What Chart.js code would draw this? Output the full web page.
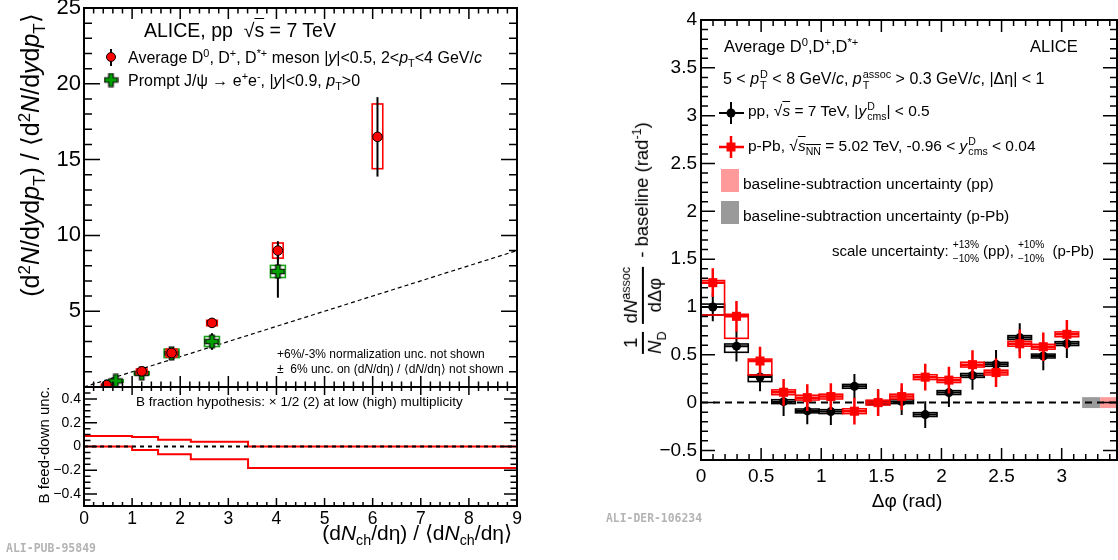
<!DOCTYPE html>
<html>
<head>
<meta charset="utf-8">
<script src="https://cdn.jsdelivr.net/npm/chart.js@4.4.1/dist/chart.umd.min.js"></script>
<style>
body { margin: 0; background: #fff; }
#fig { position: relative; width: 1118px; height: 560px; overflow: hidden; background: #fff;
       font-family: "Liberation Sans", Arial, Helvetica, sans-serif; color: #000; }
#fig canvas { position: absolute; }
.t { position: absolute; white-space: nowrap; line-height: 2.2; }
.t sup, .t sub, .rot sup, .rot sub { font-size: 0.68em; line-height: 0; }
.ov { text-decoration: overline; }
.ss { display: inline-flex; flex-direction: column; align-items: flex-start; font-size: 0.68em;
      line-height: 1; vertical-align: 0.56em; margin-left: 1px; }
.ss2 { display: inline-flex; flex-direction: column; align-items: center; font-size: 0.68em;
       line-height: 1.45; vertical-align: 0.85em; margin: 0 4px; }
.rot { position: absolute; white-space: nowrap; line-height: 1.2; transform: translate(-50%, -50%) rotate(-90deg); }
.frac { display: inline-flex; flex-direction: column; align-items: center; vertical-align: middle; margin: 0 4px; line-height: 1.1; }
.frac .bar { align-self: stretch; height: 1.5px; background: #000; margin: 1px 0; }
.tag { font-family: "DejaVu Sans Mono", monospace; font-weight: bold; color: #b4b4b4; }
</style>
</head>
<body>
<div id="fig">
  <canvas id="cTop" width="530" height="395" style="left:0;top:0"></canvas>
  <canvas id="cBot" width="530" height="180" style="left:0;top:380px"></canvas>
  <canvas id="cCorr" width="528" height="560" style="left:590px;top:0"></canvas>
</div>
<script>
// ---- left: self-normalised yields vs multiplicity ----
const multD = [0.47, 1.2, 1.82, 2.66, 4.03, 6.1];
const yieldD = [0.12, 1.03, 2.24, 4.23, 9.0, 16.5];
const statD = [0.1, 0.15, 0.3, 0.15, 0.62, 2.62];
const sysLoD = [0.06, 0.16, 0.26, 0.19, 0.5, 2.1];
const sysHiD = [0.06, 0.16, 0.26, 0.17, 0.5, 2.17];
const multErrD = [0.11, 0.11, 0.11, 0.11, 0.11, 0.11];

const multJpsi = [0.66, 1.2, 1.82, 2.66, 4.03];
const yieldJpsi = [0.4, 0.9, 2.22, 3.0, 7.62];
const statJpsi = [0.2, 0.3, 0.35, 0.55, 1.73];
const sysJpsi = [0.08, 0.1, 0.28, 0.33, 0.4];
const multErrJpsi = [0.155, 0.155, 0.155, 0.155, 0.155];

const diagX = [0, 9];
const diagY = [0, 9];

// B feed-down band (bin edges, upper / lower values)
const fdEdges = [0, 1.0, 1.54, 2.22, 3.41, 9];
const fdUp = [0.088, 0.079, 0.057, 0.04, 0, 0];
const fdDown = [0, -0.03, -0.066, -0.108, -0.18, -0.18];
const fdZeroX = [0, 9];

const xTicksMult = [0, 1, 2, 3, 4, 5, 6, 7, 8, 9];
const yTicksYield = [5, 10, 15, 20, 25];
const yTicksFd = [-0.4, -0.2, 0, 0.2, 0.4];

// ---- right: D-hadron azimuthal correlations ----
const dPhi = [0.098, 0.295, 0.491, 0.687, 0.884, 1.080, 1.276, 1.473, 1.669, 1.865, 2.062, 2.258, 2.454, 2.651, 2.847, 3.043];
const dPhiHalf = 0.098;
const corrPP = [1.0, 0.59, 0.268, 0.01, -0.087, -0.094, 0.17, 0.0, 0.01, -0.125, 0.105, 0.284, 0.40, 0.68, 0.487, 0.617];
const statPP = [0.15, 0.16, 0.15, 0.15, 0.14, 0.14, 0.13, 0.14, 0.14, 0.14, 0.15, 0.15, 0.15, 0.15, 0.15, 0.15];
const sysLoPP = [0.084, 0.064, 0.048, 0.02, 0.02, 0.02, 0.02, 0.02, 0.02, 0.02, 0.02, 0.02, 0.02, 0.02, 0.02, 0.02];
const sysHiPP = [0.03, 0.023, 0.021, 0.02, 0.02, 0.02, 0.02, 0.02, 0.02, 0.02, 0.02, 0.02, 0.02, 0.02, 0.02, 0.02];
const corrPPb = [1.254, 0.902, 0.435, 0.108, 0.052, 0.063, -0.09, 0.0, 0.063, 0.266, 0.235, 0.397, 0.314, 0.615, 0.584, 0.714];
const statPPb = [0.15, 0.16, 0.15, 0.14, 0.14, 0.14, 0.14, 0.14, 0.14, 0.14, 0.14, 0.15, 0.15, 0.15, 0.15, 0.15];
const sysLoPPb = [0.338, 0.23, 0.146, 0.025, 0.025, 0.025, 0.025, 0.025, 0.025, 0.025, 0.025, 0.025, 0.025, 0.025, 0.025, 0.025];
const sysHiPPb = [0.022, 0.021, 0.02, 0.025, 0.025, 0.025, 0.025, 0.025, 0.025, 0.025, 0.025, 0.025, 0.025, 0.025, 0.025, 0.025];
const zeroX = [0, 3.46];
const baseUncName = ['p-Pb', 'pp'];
const baseUncFrom = [3.17, 3.32];
const baseUncTo = [3.32, 3.46];
const baseUncHalf = [0.057, 0.057];

const xTicksPhi = [0, 0.5, 1, 1.5, 2, 2.5, 3];
const yTicksCorr = [-0.5, 0, 0.5, 1, 1.5, 2, 2.5, 3, 3.5, 4];

const FONT = '"Liberation Sans", Arial, Helvetica, sans-serif';
const fmt = v => (Math.abs(v) < 1e-9 ? '0' : String(+(+v).toFixed(2))).replace('-', '\u2212');
const pts = (xs, ys) => xs.map((x, i) => ({x, y: ys[i]}));

function axis(vals, min, max, o) {
  return {
    type: 'linear', min, max, display: o.display !== false,
    afterBuildTicks: s => { s.ticks = vals.map(v => ({value: v})); },
    afterFit: s => {
      if (o.w) s.width = o.w;
      if (o.h) s.height = o.h;
      s.paddingTop = s.paddingBottom = s.paddingLeft = s.paddingRight = 0;
    },
    grid: {display: false, drawTicks: false, tickLength: 0},
    border: {display: false},
    ticks: {color: '#000', autoSkip: false, maxRotation: 0, minRotation: 0, padding: o.pad || 0,
             font: {family: FONT, size: o.size || 12}, callback: fmt}
  };
}

// ROOT-like frame with inward ticks on four sides
const rootFrame = {
  id: 'rootFrame',
  afterDatasetsDraw(chart, args, o) {
    const {ctx, chartArea: a, scales: {x, y}} = chart;
    const marks = (sc, minor, major) => {
      const out = [];
      const n0 = Math.ceil(sc.min / minor - 1e-6), n1 = Math.floor(sc.max / minor + 1e-6);
      for (let n = n0; n <= n1; n++) {
        const r = n * minor / major;
        out.push([sc.getPixelForValue(n * minor), Math.abs(r - Math.round(r)) < 1e-6]);
      }
      return out;
    };
    ctx.save();
    ctx.strokeStyle = '#000';
    ctx.lineWidth = 1.5;
    ctx.beginPath();
    for (const [px, big] of marks(x, o.xMinor, o.xMajor)) {
      const l = big ? o.xLen : o.xLen / 2;
      ctx.moveTo(px, a.bottom); ctx.lineTo(px, a.bottom - l);
      ctx.moveTo(px, a.top); ctx.lineTo(px, a.top + l);
    }
    for (const [py, big] of marks(y, o.yMinor, o.yMajor)) {
      const l = big ? o.yLen : o.yLen / 2;
      ctx.moveTo(a.left, py); ctx.lineTo(a.left + l, py);
      ctx.moveTo(a.right, py); ctx.lineTo(a.right - l, py);
    }
    ctx.stroke();
    ctx.lineWidth = 2;
    ctx.strokeRect(a.left, a.top, a.right - a.left, a.bottom - a.top);
    ctx.restore();
  }
};

// systematic boxes + statistical bars, drawn under each dataset's markers
const errBars = {
  id: 'errBars',
  beforeDatasetDraw(chart, args) {
    const ds = chart.data.datasets[args.index];
    const e = ds.errs;
    if (!e) return;
    const {ctx, chartArea: a, scales: {x, y}} = chart;
    ctx.save();
    ctx.beginPath();
    ctx.rect(a.left, a.top, a.right - a.left, a.bottom - a.top);
    ctx.clip();
    ds.data.forEach((p, i) => {
      const bh = Array.isArray(e.boxHalf) ? e.boxHalf[i] : e.boxHalf;
      const x0 = x.getPixelForValue(p.x - bh), x1 = x.getPixelForValue(p.x + bh);
      const yt = y.getPixelForValue(p.y + e.hi[i]), yb = y.getPixelForValue(p.y - e.lo[i]);
      if (e.boxFill) { ctx.fillStyle = e.boxFill; ctx.fillRect(x0, yt, x1 - x0, yb - yt); }
      ctx.strokeStyle = e.boxColor;
      ctx.lineWidth = e.boxWidth;
      ctx.strokeRect(x0, yt, x1 - x0, yb - yt);
      const px = x.getPixelForValue(p.x);
      ctx.strokeStyle = e.barColor;
      ctx.lineWidth = e.barWidth;
      ctx.beginPath();
      ctx.moveTo(px, y.getPixelForValue(p.y - e.stat[i]));
      ctx.lineTo(px, y.getPixelForValue(p.y + e.stat[i]));
      if (e.xHalf) {
        const py = y.getPixelForValue(p.y);
        ctx.moveTo(x.getPixelForValue(p.x - e.xHalf), py);
        ctx.lineTo(x.getPixelForValue(p.x + e.xHalf), py);
      }
      ctx.stroke();
    });
    ctx.restore();
  }
};

// shaded uncertainty bands placed in data coordinates
const bands = {
  id: 'bands',
  beforeDatasetsDraw(chart, args, o) {
    if (!o.items) return;
    const {ctx, scales: {x, y}} = chart;
    ctx.save();
    for (const b of o.items) {
      const x0 = x.getPixelForValue(b.x0), x1 = x.getPixelForValue(b.x1);
      const y0 = y.getPixelForValue(b.y1), y1 = y.getPixelForValue(b.y0);
      ctx.fillStyle = b.color;
      ctx.fillRect(x0, y0, x1 - x0, y1 - y0);
    }
    ctx.restore();
  }
};

// legend symbols
const keys = {
  id: 'keys',
  afterDraw(chart, args, o) {
    if (!o.items) return;
    const ctx = chart.ctx;
    ctx.save();
    for (const k of o.items) {
      if (k.rect) { ctx.fillStyle = k.color; ctx.fillRect(k.x, k.y, k.w, k.h); continue; }
      if (k.barWidth) {
        ctx.strokeStyle = k.bar;
        ctx.lineWidth = k.barWidth;
        ctx.beginPath();
        if (k.vy) { ctx.moveTo(k.x, k.vy[0]); ctx.lineTo(k.x, k.vy[1]); }
        if (k.hx) { ctx.moveTo(k.hx[0], k.y); ctx.lineTo(k.hx[1], k.y); }
        ctx.stroke();
      }
      if (k.img) { ctx.drawImage(k.img, k.x - k.img.width / 2, k.y - k.img.height / 2); continue; }
      ctx.fillStyle = k.color;
      ctx.beginPath();
      if (k.square) ctx.rect(k.x - k.r, k.y - k.r, 2 * k.r, 2 * k.r);
      else ctx.arc(k.x, k.y, k.r, 0, Math.PI * 2);
      ctx.fill();
      if (k.outline) { ctx.strokeStyle = k.outline; ctx.lineWidth = 1; ctx.stroke(); }
    }
    ctx.restore();
  }
};

function plusMarker(size, arm, color) {
  const c = document.createElement('canvas');
  c.width = c.height = size;
  const g = c.getContext('2d');
  const m = size / 2, h = arm / 2, L = size / 2 - 1;
  g.beginPath();
  g.moveTo(m - h, m - L); g.lineTo(m + h, m - L); g.lineTo(m + h, m - h); g.lineTo(m + L, m - h);
  g.lineTo(m + L, m + h); g.lineTo(m + h, m + h); g.lineTo(m + h, m + L); g.lineTo(m - h, m + L);
  g.lineTo(m - h, m + h); g.lineTo(m - L, m + h); g.lineTo(m - L, m - h); g.lineTo(m - h, m - h);
  g.closePath();
  g.fillStyle = color; g.fill();
  g.strokeStyle = '#000'; g.lineWidth = 1.2; g.stroke();
  return c;
}
const plusImg = plusMarker(15, 4.5, '#00a000');

const baseOpts = (pad, scales, plugins) => ({
  responsive: false, animation: false, devicePixelRatio: 1,
  layout: {padding: pad, autoPadding: false},
  scales,
  plugins: Object.assign({legend: {display: false}, tooltip: {enabled: false}}, plugins)
});

// top-left: yields
new Chart(document.getElementById('cTop'), {
  type: 'scatter',
  data: {datasets: [
    {data: pts(multD, yieldD), order: 0, pointStyle: 'circle', pointRadius: 4.8,
     pointBackgroundColor: '#ff0000', pointBorderColor: '#000', pointBorderWidth: 1,
     errs: {stat: statD, lo: sysLoD, hi: sysHiD, boxHalf: multErrD, boxColor: '#ff0000', boxWidth: 1.6, barColor: '#000', barWidth: 2}},
    {data: pts(multJpsi, yieldJpsi), order: 1, pointStyle: plusImg,
     errs: {stat: statJpsi, lo: sysJpsi, hi: sysJpsi, boxHalf: multErrJpsi, boxColor: '#1aa01a', boxWidth: 1.6, barColor: '#000', barWidth: 2}},
    {data: pts(diagX, diagY), order: 2, showLine: true, pointRadius: 0, borderColor: '#000', borderWidth: 1.2, borderDash: [4, 3]}
  ]},
  options: baseOpts({left: 0, top: 8, right: 13, bottom: 8}, {
    x: axis(xTicksMult, 0, 9, {display: false}),
    y: axis(yTicksYield, 0, 25, {w: 84, pad: 3, size: 22})
  }, {
    rootFrame: {xMinor: 0.2, xMajor: 1, xLen: 11, yMinor: 1, yMajor: 5, yLen: 16},
    keys: {items: [
      {x: 111, y: 57, r: 4.5, color: '#ff0000', outline: '#000', bar: '#000', barWidth: 2, vy: [49, 66]},
      {x: 111, y: 80, img: plusImg}
    ]}
  }),
  plugins: [errBars, rootFrame, keys]
});

// bottom-left: B feed-down
new Chart(document.getElementById('cBot'), {
  type: 'scatter',
  data: {datasets: [
    {data: pts(fdEdges, fdUp), order: 0, showLine: true, stepped: 'before', pointRadius: 0, borderColor: '#ff0000', borderWidth: 2},
    {data: pts(fdEdges, fdDown), order: 0, showLine: true, stepped: 'before', pointRadius: 0, borderColor: '#ff0000', borderWidth: 2},
    {data: pts(fdZeroX, [0, 0]), order: -1, showLine: true, pointRadius: 0, borderColor: '#000', borderWidth: 2, borderDash: [4, 4]}
  ]},
  options: baseOpts({left: 0, top: 7, right: 13, bottom: 0}, {
    x: axis(xTicksMult, 0, 9, {h: 54, pad: 3, size: 17.5}),
    y: axis(yTicksFd, -0.5, 0.5, {w: 84, pad: 3, size: 14})
  }, {
    rootFrame: {xMinor: 0.2, xMajor: 1, xLen: 8, yMinor: 0.05, yMajor: 0.2, yLen: 13}
  }),
  plugins: [rootFrame]
});

// right: correlations
new Chart(document.getElementById('cCorr'), {
  type: 'scatter',
  data: {datasets: [
    {data: pts(dPhi, corrPPb), order: 0, pointStyle: 'rect', pointRadius: 6.4,
     pointBackgroundColor: '#ff0000', pointBorderColor: '#ff0000', pointBorderWidth: 0,
     errs: {stat: statPPb, lo: sysLoPPb, hi: sysHiPPb, boxHalf: dPhiHalf, xHalf: dPhiHalf,
            boxColor: '#ff0000', boxWidth: 1.6, barColor: '#ff0000', barWidth: 2.5}},
    {data: pts(dPhi, corrPP), order: 1, pointStyle: 'circle', pointRadius: 4.5,
     pointBackgroundColor: '#000', pointBorderColor: '#000', pointBorderWidth: 0,
     errs: {stat: statPP, lo: sysLoPP, hi: sysHiPP, boxHalf: dPhiHalf, xHalf: dPhiHalf,
            boxColor: '#000', boxWidth: 1.6, barColor: '#000', barWidth: 2}},
    {data: pts(zeroX, [0, 0]), order: 2, showLine: true, pointRadius: 0, borderColor: '#000', borderWidth: 2, borderDash: [7, 5]}
  ]},
  options: baseOpts({left: 0, top: 20, right: 1, bottom: 0}, {
    x: axis(xTicksPhi, 0, 3.46, {h: 100, pad: 5, size: 19}),
    y: axis(yTicksCorr, -0.6, 4, {w: 111, pad: 4, size: 19})
  }, {
    rootFrame: {xMinor: 0.1, xMajor: 0.5, xLen: 12, yMinor: 0.1, yMajor: 0.5, yLen: 14},
    bands: {items: baseUncName.map((n, i) => ({x0: baseUncFrom[i], x1: baseUncTo[i], y0: -baseUncHalf[i], y1: baseUncHalf[i],
                                                color: n === 'pp' ? '#ff9a9a' : '#9a9a9a'}))},
    keys: {items: [
      {x: 141, y: 113, r: 4.5, color: '#000', bar: '#000', barWidth: 2, vy: [102, 124], hx: [129, 154]},
      {x: 141, y: 147, r: 4.5, square: true, color: '#ff0000', bar: '#ff0000', barWidth: 2.5, vy: [136, 158], hx: [129, 154]},
      {rect: true, x: 131, y: 169, w: 18, h: 23, color: '#ff9a9a'},
      {rect: true, x: 131, y: 201, w: 18, h: 23, color: '#9a9a9a'}
    ]}
  }),
  plugins: [bands, errBars, rootFrame, keys]
});

// ---- text ----
const fig = document.getElementById('fig');
function label(html, x, base, size, align, cls) {
  const d = document.createElement('div');
  d.className = 't' + (cls ? ' ' + cls : '');
  d.innerHTML = html;
  d.style.fontSize = size + 'px';
  d.style.left = x + 'px';
  d.style.top = (base - 1.4465 * size) + 'px';
  if (align === 'center') d.style.transform = 'translateX(-50%)';
  if (align === 'right') d.style.transform = 'translateX(-100%)';
  fig.appendChild(d);
}
function vlabel(html, cx, cy, size) {
  const d = document.createElement('div');
  d.className = 'rot';
  d.innerHTML = html;
  d.style.fontSize = size + 'px';
  d.style.left = cx + 'px';
  d.style.top = cy + 'px';
  fig.appendChild(d);
}

label('ALICE, pp&nbsp; √<span class="ov">s</span> = 7 TeV', 144, 37, 19.5);
label('Average D<sup>0</sup>, D<sup>+</sup>, D<sup>*+</sup> meson |<i>y</i>|&lt;0.5, 2&lt;<i>p</i><sub>T</sub>&lt;4 GeV/<i>c</i>', 128, 63, 16);
label('Prompt J/ψ → e<sup>+</sup>e<sup>-</sup>, |<i>y</i>|&lt;0.9, <i>p</i><sub>T</sub>&gt;0', 128, 86, 16);
label('+6%/-3% normalization unc. not shown', 277, 358, 12);
label('± &nbsp;6% unc. on (d<i>N</i>/dη) / ⟨d<i>N</i>/dη⟩ not shown', 277, 373, 12);
label('B fraction hypothesis: × 1/2 (2) at low (high) multiplicity', 136, 407, 13.5);
label('(d<i>N</i><sub>ch</sub>/dη) / ⟨d<i>N</i><sub>ch</sub>/dη⟩', 512, 540, 21, 'right');
label('ALI-PUB-95849', 6, 553, 11.5, 'left', 'tag');
vlabel('(d<sup>2</sup><i>N</i>/d<i>y</i>d<i>p</i><sub>T</sub>) / ⟨d<sup>2</sup><i>N</i>/d<i>y</i>d<i>p</i><sub>T</sub>⟩', 30, 155, 25);
vlabel('B feed-down unc.', 43.5, 445, 15);

label('Average D<sup>0</sup>,D<sup>+</sup>,D<sup>*+</sup>', 724, 52, 16.5);
label('ALICE', 1030, 52, 16.5);
label('5 &lt; <i>p</i><span class="ss"><span>D</span><span>T</span></span> &lt; 8 GeV/<i>c</i>, <i>p</i><span class="ss"><span>assoc</span><span>T</span></span> &gt; 0.3 GeV/<i>c</i>, |Δη| &lt; 1', 723, 84, 16);
label('pp, √<span class="ov"><i>s</i></span> = 7 TeV, |<i>y</i><span class="ss"><span>D</span><span>cms</span></span>| &lt; 0.5', 748, 116, 15.5);
label('p-Pb, √<span class="ov"><i>s</i><sub>NN</sub></span> = 5.02 TeV, -0.96 &lt; <i>y</i><span class="ss"><span>D</span><span>cms</span></span> &lt; 0.04', 748, 151, 15.5);
label('baseline-subtraction uncertainty (pp)', 743, 189, 15.5);
label('baseline-subtraction uncertainty (p-Pb)', 743, 221, 15.5);
label('scale uncertainty:<span class="ss2"><span>+13%</span><span>−10%</span></span>(pp),<span class="ss2"><span>+10%</span><span>−10%</span></span> (p-Pb)', 832, 256, 15);
label('Δφ (rad)', 907, 507, 19, 'center');
label('ALI-DER-106234', 606, 522, 11.4, 'left', 'tag');
vlabel('<span class="frac"><span>1</span><span class="bar"></span><span><i>N</i><sub>D</sub></span></span>' +
       '<span class="frac"><span>d<i>N</i><sup>assoc</sup></span><span class="bar"></span><span>dΔφ</span></span>' +
       ' - baseline (rad<sup>-1</sup>)', 643, 240, 18.5);
</script>
</body>
</html>
